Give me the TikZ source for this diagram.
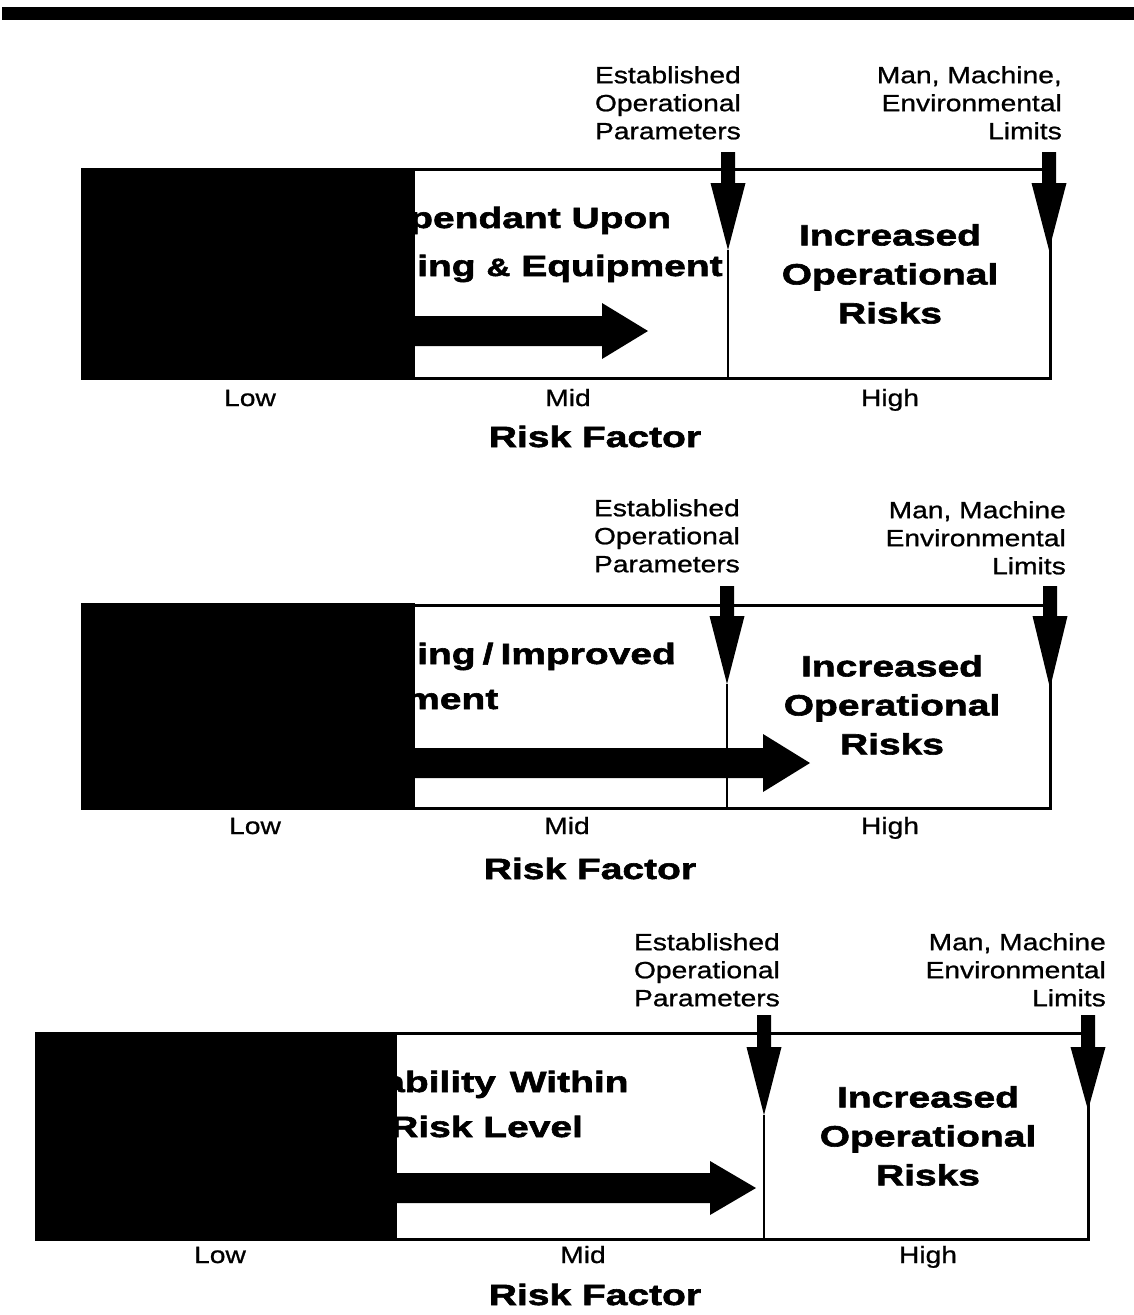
\documentclass[tikz,border=0pt]{standalone}
\usepackage{fontspec}
\setmainfont{Liberation Sans}
\newfontfamily\labfont[FakeStretch=1.2,FakeBold=0.9]{Liberation Sans}
\newfontfamily\hvyfont[FakeStretch=1.33,FakeBold=2.0]{Liberation Sans Bold}
\tikzset{
  lab/.style={font=\labfont\fontsize{23.5}{28}\selectfont, inner sep=0pt},
  hvy/.style={font=\hvyfont\fontsize{29.3}{39}\selectfont, inner sep=0pt},
  frame/.style={line width=3pt, line cap=rect},
  divline/.style={line width=2.5pt},
  blk/.style={fill=black, draw=none}
}
% down arrow: name, x, shaft top, head top, tip
\newcommand\myDArr[5]{%
  \fill[black] (#2-7,#3) -- (#2+7,#3) -- (#2+7,#4) -- (#2+17.5,#4) -- (#2,#5)
     -- (#2-17.5,#4) -- (#2-7,#4) -- cycle;
  \coordinate (#1) at (#2,#5);}
% right arrow: name, x0, y, head base, tip, head half height
\newcommand\myRArr[6]{%
  \fill[black] (#2,#3-15) -- (#4,#3-15) -- (#4,#3-#6) -- (#5,#3) -- (#4,#3+#6)
     -- (#4,#3+15) -- (#2,#3+15) -- cycle;
  \coordinate (#1) at (#5,#3);}
\begin{document}
\begin{tikzpicture}[x=1pt,y=-1pt]
\useasboundingbox (0,0) rectangle (1134,1315);
\fill[white] (0,0) rectangle (1134,1315);
% top rule
\fill[black] (2,7) rectangle (1134,20);

% ================= Panel 1 =================
\node[hvy, anchor=base west] (p1t1) at (409,228) {pendant Upon};
\node[hvy, anchor=base west] (p1t2) at (417,276) {ing {\fontsize{25}{25}\selectfont\&} Equipment};
\fill[black] (81,168) rectangle (415,379);
\coordinate (p1tl) at (82,169); \coordinate (p1tr) at (1050,169);
\coordinate (p1bl) at (82,378); \coordinate (p1br) at (1050,378);
\draw[frame] (p1tl) -- (p1tr) -- (p1br) -- (p1bl);
\myDArr{p1a}{728}{152}{183}{250}
\myDArr{p1b}{1049}{152}{183}{250}
\coordinate (p1d) at (728,378);
\draw[divline] (p1a) -- (p1d);
\myRArr{p1arr}{414}{331}{602}{648}{28}
\node[lab, anchor=north east, align=right] (p1est) at (741,66) {Established\\Operational\\Parameters};
\node[lab, anchor=north east, align=right] (p1man) at (1062,66) {Man, Machine,\\Environmental\\Limits};
\node[hvy, anchor=north, align=center] (p1inc) at (890,224) {Increased\\Operational\\Risks};
\node[lab, anchor=base] (p1low) at (250,406) {Low};
\node[lab, anchor=base] (p1mid) at (568,406) {Mid};
\node[lab, anchor=base] (p1high) at (890,406) {High};
\node[hvy, anchor=base] (p1rf) at (595,447) {Risk Factor};

% ================= Panel 2 =================
\node[hvy, anchor=base west] (p2t1) at (417,664) {ing\hspace{7pt}/\hspace{7pt}Improved};
\node[hvy, anchor=base west] (p2t2) at (405,709) {ment};
\fill[black] (81,603) rectangle (415,809);
\coordinate (p2tl) at (82,605); \coordinate (p2tr) at (1050,605);
\coordinate (p2bl) at (82,808); \coordinate (p2br) at (1050,808);
\draw[frame] (p2tl) -- (p2tr) -- (p2br) -- (p2bl);
\myDArr{p2a}{727}{586}{616}{684}
\myDArr{p2b}{1050}{586}{616}{688}
\coordinate (p2d) at (727,808);
\draw[divline] (p2a) -- (p2d);
\myRArr{p2arr}{414}{763}{763}{810}{29}
\node[lab, anchor=north east, align=right] (p2est) at (740,499) {Established\\Operational\\Parameters};
\node[lab, anchor=north east, align=right] (p2man) at (1066,501) {Man, Machine\\Environmental\\Limits};
\node[hvy, anchor=north, align=center] (p2inc) at (892,655) {Increased\\Operational\\Risks};
\node[lab, anchor=base] (p2low) at (255,834) {Low};
\node[lab, anchor=base] (p2mid) at (567,834) {Mid};
\node[lab, anchor=base] (p2high) at (890,834) {High};
\node[hvy, anchor=base] (p2rf) at (590,879) {Risk Factor};

% ================= Panel 3 =================
\node[hvy, anchor=base west] (p3t1) at (383,1092) {ability\hspace{14pt}Within};
\node[hvy, anchor=base west] (p3t2) at (390,1137) {Risk Level};
\fill[black] (35,1032) rectangle (397,1240);
\coordinate (p3tl) at (36,1033); \coordinate (p3tr) at (1088,1033);
\coordinate (p3bl) at (36,1239); \coordinate (p3br) at (1088,1239);
\draw[frame] (p3tl) -- (p3tr) -- (p3br) -- (p3bl);
\myDArr{p3a}{764}{1015}{1047}{1115}
\myDArr{p3b}{1088}{1015}{1047}{1110}
\coordinate (p3d) at (764,1239);
\draw[divline] (p3a) -- (p3d);
\myRArr{p3arr}{396}{1188}{710}{756}{27}
\node[lab, anchor=north east, align=right] (p3est) at (780,933) {Established\\Operational\\Parameters};
\node[lab, anchor=north east, align=right] (p3man) at (1106,933) {Man, Machine\\Environmental\\Limits};
\node[hvy, anchor=north, align=center] (p3inc) at (928,1086) {Increased\\Operational\\Risks};
\node[lab, anchor=base] (p3low) at (220,1263) {Low};
\node[lab, anchor=base] (p3mid) at (583,1263) {Mid};
\node[lab, anchor=base] (p3high) at (928,1263) {High};
\node[hvy, anchor=base] (p3rf) at (595,1305) {Risk Factor};
\end{tikzpicture}
\end{document}
